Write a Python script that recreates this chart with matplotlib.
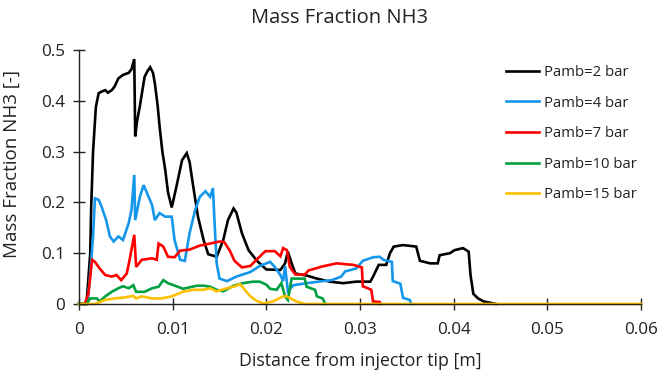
import matplotlib
matplotlib.use("Agg")
import matplotlib.pyplot as plt

plt.rcParams['font.family'] = ['Open Sans', 'DejaVu Sans']

labels = ["Pamb=2 bar", "Pamb=4 bar", "Pamb=7 bar", "Pamb=10 bar", "Pamb=15 bar"]
colors = ["#000000", "#1497EA", "#FF0000", "#00A040", "#FFC000"]

x_p2 = [0, 0.0008, 0.0012, 0.0013, 0.0015, 0.0018, 0.0021, 0.0024, 0.0028, 0.0031, 0.0035, 0.0038,
        0.0042, 0.0047, 0.0053, 0.0056, 0.0059, 0.0060, 0.0062, 0.0065, 0.0070, 0.0073, 0.0076, 0.0079,
        0.0081, 0.0084, 0.0086, 0.0089, 0.0092, 0.0095, 0.0099, 0.0104, 0.0110, 0.0115, 0.0118, 0.0122,
        0.0127, 0.0133, 0.0138, 0.0147, 0.0154, 0.0159, 0.0165, 0.0168, 0.0174, 0.0181, 0.0190, 0.0200,
        0.0215, 0.0220, 0.0223, 0.0227, 0.0231, 0.0243, 0.0254, 0.0268, 0.0282, 0.0296, 0.0311, 0.0314,
        0.0320, 0.0328, 0.0332, 0.0336, 0.0346, 0.0360, 0.0364, 0.0375, 0.0383, 0.0385, 0.0396, 0.0401,
        0.0410, 0.0416, 0.0418, 0.0421, 0.0426, 0.0432, 0.0440, 0.0445]
y_p2 = [0, 0, 0.10, 0.19, 0.30, 0.388, 0.415, 0.418, 0.421, 0.416, 0.421, 0.428,
        0.444, 0.451, 0.455, 0.462, 0.482, 0.33, 0.36, 0.39, 0.447, 0.458, 0.466, 0.455,
        0.434, 0.39, 0.35, 0.30, 0.265, 0.22, 0.19, 0.231, 0.283, 0.297, 0.28, 0.231,
        0.172, 0.126, 0.098, 0.093, 0.126, 0.165, 0.188, 0.18, 0.139, 0.106, 0.085, 0.068,
        0.067, 0.08, 0.103, 0.08, 0.06, 0.056, 0.05, 0.044, 0.041, 0.044, 0.044, 0.054,
        0.077, 0.077, 0.10, 0.113, 0.116, 0.113, 0.085, 0.08, 0.08, 0.096, 0.10, 0.106,
        0.11, 0.103, 0.057, 0.02, 0.011, 0.005, 0.002, 0]

x_p4 = [0, 0.0009, 0.0012, 0.0015, 0.0017, 0.0021, 0.0024, 0.0029, 0.0033, 0.0037, 0.0042, 0.0047,
        0.0053, 0.0056, 0.0059, 0.0060, 0.0065, 0.0069, 0.0072, 0.0078, 0.0081, 0.0086, 0.0092, 0.0099,
        0.0102, 0.0108, 0.0113, 0.0118, 0.0124, 0.0129, 0.0135, 0.0140, 0.0143, 0.0145, 0.0147, 0.0150,
        0.0158, 0.0168, 0.0183, 0.0193, 0.0200, 0.0204, 0.0209, 0.0215, 0.0218, 0.0220, 0.0223, 0.0229,
        0.0243, 0.0260, 0.0270, 0.0280, 0.0284, 0.0296, 0.0303, 0.0314, 0.0321, 0.0325, 0.0334, 0.0335,
        0.0343, 0.0346, 0.0353, 0.0355]
y_p4 = [0, 0, 0.06, 0.133, 0.208, 0.205, 0.192, 0.165, 0.133, 0.123, 0.133, 0.126,
        0.159, 0.185, 0.254, 0.165, 0.211, 0.234, 0.221, 0.195, 0.165, 0.179, 0.172, 0.172,
        0.126, 0.087, 0.085, 0.139, 0.185, 0.211, 0.222, 0.211, 0.228, 0.15, 0.08, 0.05,
        0.045, 0.054, 0.063, 0.075, 0.08, 0.083, 0.073, 0.057, 0.045, 0.075, 0.025, 0.037,
        0.041, 0.045, 0.047, 0.054, 0.064, 0.070, 0.085, 0.092, 0.093, 0.087, 0.083, 0.045,
        0.04, 0.012, 0.008, 0]

x_p7 = [0, 0.0006, 0.0010, 0.0014, 0.0017, 0.0022, 0.0028, 0.0035, 0.0040, 0.0045, 0.0051, 0.0054,
        0.0059, 0.0061, 0.0067, 0.0078, 0.0083, 0.0085, 0.0090, 0.0095, 0.0102, 0.0108, 0.0118, 0.0129,
        0.0140, 0.0150, 0.0155, 0.0161, 0.0166, 0.0174, 0.0183, 0.0191, 0.0199, 0.0209, 0.0215, 0.0218,
        0.0222, 0.0225, 0.0231, 0.0241, 0.0245, 0.0260, 0.0275, 0.0293, 0.0302, 0.0303, 0.0312, 0.0314,
        0.0321, 0.0322]
y_p7 = [0, 0, 0.02, 0.087, 0.083, 0.07, 0.057, 0.054, 0.057, 0.047, 0.06, 0.087,
        0.136, 0.073, 0.087, 0.09, 0.087, 0.119, 0.113, 0.093, 0.092, 0.105, 0.107, 0.115,
        0.119, 0.123, 0.122, 0.105, 0.085, 0.072, 0.075, 0.09, 0.104, 0.104, 0.094, 0.11,
        0.106, 0.073, 0.058, 0.058, 0.066, 0.074, 0.08, 0.077, 0.072, 0.035, 0.028, 0.005,
        0.004, 0]

x_p10 = [0, 0.0008, 0.0012, 0.0019, 0.0022, 0.0028, 0.0035, 0.0042, 0.0047, 0.0053, 0.0058, 0.0061,
         0.0070, 0.0078, 0.0085, 0.0090, 0.0095, 0.0101, 0.0111, 0.0126, 0.0133, 0.0140, 0.0147, 0.0154,
         0.0165, 0.0175, 0.0186, 0.0193, 0.0200, 0.0204, 0.0211, 0.0216, 0.0220, 0.0223, 0.0227, 0.0241,
         0.0243, 0.0252, 0.0254, 0.0260, 0.0263]
y_p10 = [0, 0, 0.011, 0.011, 0.005, 0.015, 0.024, 0.031, 0.035, 0.031, 0.037, 0.024,
         0.024, 0.031, 0.034, 0.047, 0.041, 0.037, 0.03, 0.036, 0.036, 0.034, 0.028, 0.025,
         0.036, 0.041, 0.044, 0.044, 0.038, 0.03, 0.028, 0.041, 0.015, 0.008, 0.05, 0.05,
         0.034, 0.028, 0.015, 0.011, 0]

x_p15 = [0, 0.0017, 0.0028, 0.0038, 0.0049, 0.0058, 0.0061, 0.0067, 0.0078, 0.0088, 0.0099, 0.0111,
         0.0122, 0.0133, 0.0140, 0.0147, 0.0158, 0.0165, 0.0172, 0.0177, 0.0183, 0.0190, 0.0197, 0.0207,
         0.0218, 0.0222, 0.0232, 0.0241, 0.0600]
y_p15 = [0, 0, 0.008, 0.011, 0.013, 0.016, 0.011, 0.015, 0.011, 0.011, 0.015, 0.024,
         0.028, 0.028, 0.031, 0.025, 0.031, 0.034, 0.039, 0.028, 0.015, 0.006, 0.001, 0.005,
         0.015, 0.015, 0.005, 0, 0]

series_x = [x_p2, x_p4, x_p7, x_p10, x_p15]
series_y = [y_p2, y_p4, y_p7, y_p10, y_p15]

x_ticks = [0, 0.01, 0.02, 0.03, 0.04, 0.05, 0.06]
x_ticklabels = ["0", "0.01", "0.02", "0.03", "0.04", "0.05", "0.06"]
y_ticks = [0, 0.1, 0.2, 0.3, 0.4, 0.5]
y_ticklabels = ["0", "0.1", "0.2", "0.3", "0.4", "0.5"]

fig = plt.figure(figsize=(6.64, 3.76), dpi=100)
ax = fig.add_axes([79/664, 1-304/376, (641-79)/664, (304-50)/376])

for xs, ys, c, lab in zip(series_x, series_y, colors, labels):
    ax.plot(xs, ys, color=c, lw=1.9, label=lab, clip_on=False, solid_joinstyle='miter')

ax.set_xlim(0, 0.06)
ax.set_ylim(0, 0.5)
ax.set_xticks(x_ticks)
ax.set_xticklabels(x_ticklabels)
ax.set_yticks(y_ticks)
ax.set_yticklabels(y_ticklabels)
for s in ['top', 'right']:
    ax.spines[s].set_visible(False)
for s in ['left', 'bottom']:
    ax.spines[s].set_linewidth(1.0)
    ax.spines[s].set_color('#222222')
ax.tick_params(direction='inout', length=8, width=1.0, color='#222222', labelsize=12.3,
               labelcolor='#222222')
ax.tick_params(axis='x', pad=9)
ax.tick_params(axis='y', pad=6)

ax.set_xlabel("Distance from injector tip [m]", fontsize=12.8, color='#222222', labelpad=10)
ax.set_ylabel("Mass Fraction NH3 [-]", fontsize=13.5, color='#222222')
ax.yaxis.set_label_coords(-0.103, 0.55)
fig.text(340/664, 1-18/376, "Mass Fraction NH3", fontsize=14.5, color='#222222',
         ha='center', va='center')

leg = ax.legend(loc='upper left', bbox_to_anchor=(500/664, 1-59/376), bbox_transform=fig.transFigure,
                frameon=False, fontsize=10.7, handlelength=2.25, handletextpad=0.3, labelspacing=1.05,
                borderaxespad=0)
for t in leg.get_texts():
    t.set_color('#222222')

fig.savefig("out.png", dpi=100)
